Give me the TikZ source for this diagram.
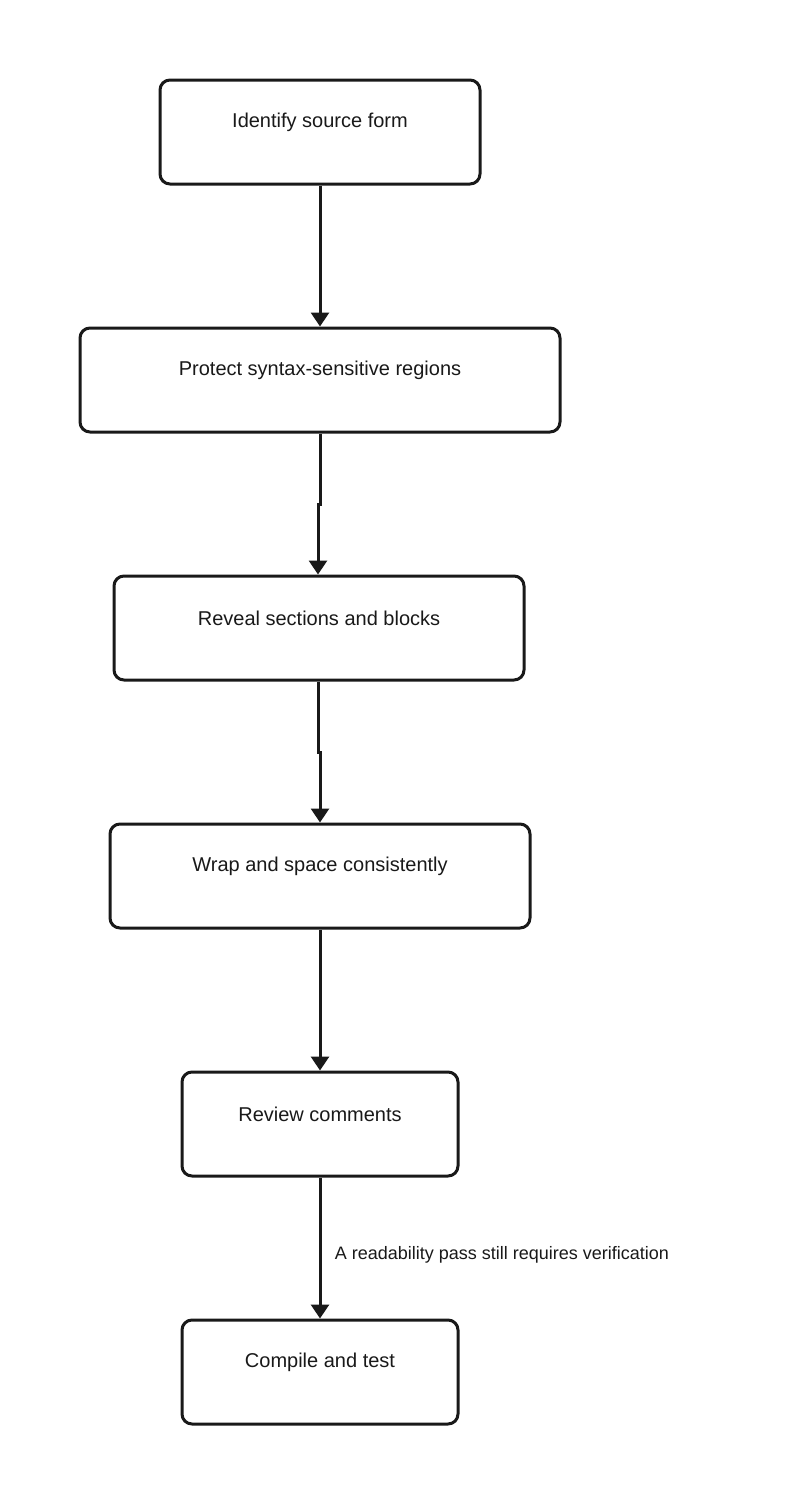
\documentclass[tikz,border=0pt]{standalone}
\usepackage{fontspec}
\setmainfont{Liberation Sans}
\usetikzlibrary{arrows.meta}
\begin{document}
\begin{tikzpicture}[x=1pt,y=-1pt,
 box/.style={draw=black!90,line width=3pt,rounded corners=10pt,inner sep=0pt},
 txt/.style={font=\fontsize{20}{24}\selectfont,text=black!90},
 arr/.style={draw=black!90,line width=3pt,-{Triangle[length=14pt,width=18pt]}}]
\useasboundingbox (0,0) rectangle (802,1504);
\newcommand\bx[6]{\node[box,minimum width=#3,minimum height=104pt,label={[txt,yshift=10pt]center:#6}] (#1) at (#2,#4) {};}
\bx{a}{320}{320pt}{132}{}{Identify source form}
\bx{b}{320}{480pt}{380}{}{Protect syntax-sensitive regions}
\bx{c}{319}{410pt}{628}{}{Reveal sections and blocks}
\bx{d}{320}{420pt}{876}{}{Wrap and space consistently}
\bx{e}{320}{276pt}{1124}{}{Review comments}
\bx{f}{320}{276pt}{1372}{}{Compile and test}
\draw[arr] (a.south) -- (b.north);
\draw[arr] (b.south) -- (320,504) -- (318,504) -- (c.north -| 318,0);
\draw[arr] (c.south -| 318,0) -- (318,752) -- (320,752) -- (d.north);
\draw[arr] (d.south) -- (e.north);
\draw[arr] (e.south) -- node[right=10pt,font=\fontsize{18}{22}\selectfont,text=black!90,pos=0.55]{A readability pass still requires verification} (f.north);
\end{tikzpicture}
\end{document}
